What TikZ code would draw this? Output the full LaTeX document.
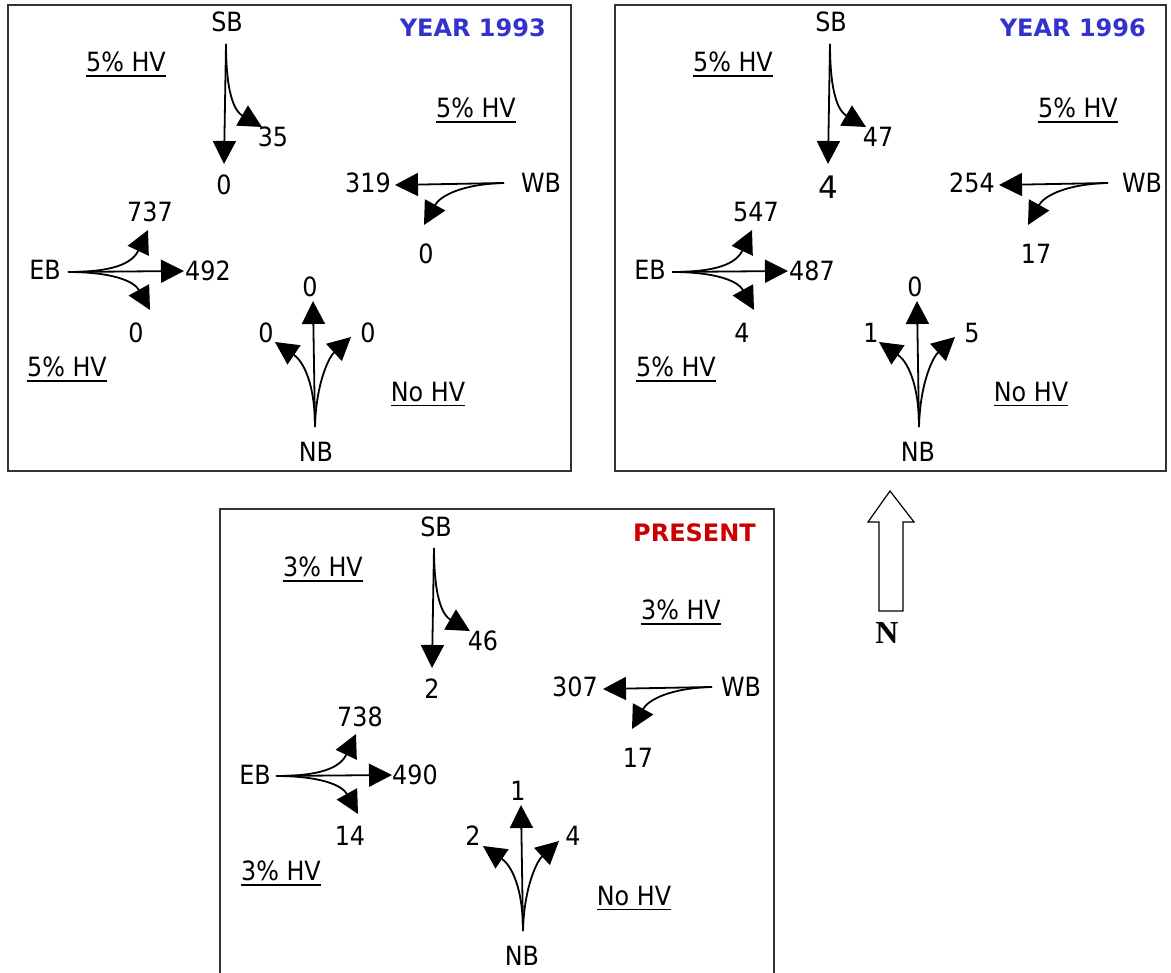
\documentclass[tikz,border=0pt]{standalone}
\usepackage{fontspec}
\setmainfont{DejaVu Sans}[FakeStretch=0.9]
\newfontfamily\titlefont{DejaVu Sans}
\newfontfamily\bigdigitfont{DejaVu Sans}
\newfontfamily\compassfont{Liberation Serif}
\usetikzlibrary{arrows.meta}

\definecolor{titleblue}{HTML}{3333CC}
\definecolor{titlered}{HTML}{CC0000}
\definecolor{framegray}{HTML}{333333}

% underlined share of heavy vehicles
\newcommand\hvline[1]{\setbox0=\hbox{#1}\leavevmode\rlap{\smash{\rule[-5pt]{\wd0}{1.6pt}}}\box0}

\tikzset{
  lbl/.style={font=\fontsize{26.5}{30}\selectfont, inner sep=0pt},
  ttl/.style={font=\titlefont\bfseries\fontsize{24}{28}\selectfont, inner sep=0pt, anchor=east},
  flow/.style={line width=1.8pt, -{Triangle[length=23pt,width=23pt]}},
  panelframe/.style={draw=framegray, line width=1.5pt},
}

% the turning movements of one intersection, in local coordinates
\newcommand\movements{%
  \coordinate (s0) at (226,44);
  \coordinate (sT) at (224,164);
  \coordinate (sC) at (262,127);
  \coordinate (w0) at (504,183);
  \coordinate (wT) at (395,185);
  \coordinate (wC) at (424,225);
  \coordinate (e0) at (68,272);
  \coordinate (eT) at (184,271);
  \coordinate (eU) at (148,230);
  \coordinate (eD) at (150,310);
  \coordinate (n0) at (315,427);
  \coordinate (nT) at (313,301);
  \coordinate (nL) at (275,342);
  \coordinate (nR) at (351,337);
  % southbound
  \draw[flow] (s0) -- (sT);
  \draw[flow] (s0) .. controls (226,98) and (236,112) .. (sC);
  % westbound
  \draw[flow] (w0) -- (wT);
  \draw[flow] (w0) .. controls (462,184) and (440,196) .. (wC);
  % eastbound
  \draw[flow] (e0) -- (eT);
  \draw[flow] (e0) .. controls (112,272) and (132,264) .. (eU);
  \draw[flow] (e0) .. controls (112,272) and (134,281) .. (eD);
  % northbound
  \draw[flow] (n0) -- (nT);
  \draw[flow] (n0) .. controls (315,383) and (303,361) .. (nL);
  \draw[flow] (n0) .. controls (316,383) and (329,357) .. (nR);
}

\begin{document}
\begin{tikzpicture}[x=1pt,y=-1pt]
\useasboundingbox (0,0) rectangle (1171,973);
\clip (0,0) rectangle (1171,973);

% frames
\draw[panelframe] (8,5) rectangle (571,471);
\draw[panelframe] (615,5) rectangle (1166,471);
\draw[panelframe] (220,990) -- (220,509) -- (774,509) -- (774,990);

% year 1993
\begin{scope}[name prefix=a-]
  \movements
  \node[lbl] (sb) at (227,22) {SB};
  \node[ttl] (title) at (546,28) {\textcolor{titleblue}{YEAR 1993}};
  \node[lbl] (hvtl) at (126,62) {\hvline{5\% HV}};
  \node[lbl] (sbturn) at (273,137) {35};
  \node[lbl] (sbthru) at (224,185) {0};
  \node[lbl] (hvtr) at (476,108) {\hvline{5\% HV}};
  \node[lbl] (wbthru) at (368,183) {319};
  \node[lbl] (wb) at (541,183) {WB};
  \node[lbl] (wbturn) at (426,254) {0};
  \node[lbl] (ebup) at (150,212) {737};
  \node[lbl] (eb) at (45,270) {EB};
  \node[lbl] (ebthru) at (208,271) {492};
  \node[lbl] (ebdown) at (136,333) {0};
  \node[lbl] (hvbl) at (67,367) {\hvline{5\% HV}};
  \node[lbl] (nbthru) at (310,287) {0};
  \node[lbl] (nbleft) at (266,333) {0};
  \node[lbl] (nbright) at (368,333) {0};
  \node[lbl] (hvbr) at (428,392) {\hvline{No HV}};
  \node[lbl] (nb) at (316,452) {NB};
\end{scope}

% year 1996
\begin{scope}[shift={(604,0)}, name prefix=b-]
  \movements
  \node[lbl] (sb) at (227,22) {SB};
  \node[ttl] (title) at (542,28) {\textcolor{titleblue}{YEAR 1996}};
  \node[lbl] (hvtl) at (129,62) {\hvline{5\% HV}};
  \node[lbl] (sbturn) at (274,137) {47};
  \node[lbl, font=\bigdigitfont\fontsize{31}{36}\selectfont] (sbthru) at (224,187) {4};
  \node[lbl] (hvtr) at (474,108) {\hvline{5\% HV}};
  \node[lbl] (wbthru) at (368,183) {254};
  \node[lbl] (wb) at (538,183) {WB};
  \node[lbl] (wbturn) at (432,254) {17};
  \node[lbl] (ebup) at (152,212) {547};
  \node[lbl] (eb) at (46,270) {EB};
  \node[lbl] (ebthru) at (208,271) {487};
  \node[lbl] (ebdown) at (138,333) {4};
  \node[lbl] (hvbl) at (72,367) {\hvline{5\% HV}};
  \node[lbl] (nbthru) at (311,287) {0};
  \node[lbl] (nbleft) at (267,333) {1};
  \node[lbl] (nbright) at (368,333) {5};
  \node[lbl] (hvbr) at (427,392) {\hvline{No HV}};
  \node[lbl] (nb) at (314,452) {NB};
\end{scope}

% present
\begin{scope}[shift={(208,504)}, name prefix=c-]
  \movements
  \node[lbl] (sb) at (228,23) {SB};
  \node[ttl] (title) at (548,29) {\textcolor{titlered}{PRESENT}};
  \node[lbl] (hvtl) at (115,63) {\hvline{3\% HV}};
  \node[lbl] (sbturn) at (275,137) {46};
  \node[lbl] (sbthru) at (224,185) {2};
  \node[lbl] (hvtr) at (473,106) {\hvline{3\% HV}};
  \node[lbl] (wbthru) at (367,183) {307};
  \node[lbl] (wb) at (533,183) {WB};
  \node[lbl] (wbturn) at (430,254) {17};
  \node[lbl] (ebup) at (152,213) {738};
  \node[lbl] (eb) at (47,271) {EB};
  \node[lbl] (ebthru) at (207,271) {490};
  \node[lbl] (ebdown) at (142,332) {14};
  \node[lbl] (hvbl) at (73,367) {\hvline{3\% HV}};
  \node[lbl] (nbthru) at (310,287) {1};
  \node[lbl] (nbleft) at (265,332) {2};
  \node[lbl] (nbright) at (365,332) {4};
  \node[lbl] (hvbr) at (426,392) {\hvline{No HV}};
  \node[lbl] (nb) at (314,452) {NB};
\end{scope}

% north arrow
\draw[line width=1.2pt, fill=white]
  (890,491) -- (914,522) -- (903,522) -- (903,611) -- (879,611)
  -- (879,522) -- (868,522) -- cycle;
\node[inner sep=0pt, font=\compassfont\bfseries\fontsize{32}{36}\selectfont] (north) at (887,633) {N};
\end{tikzpicture}
\end{document}
